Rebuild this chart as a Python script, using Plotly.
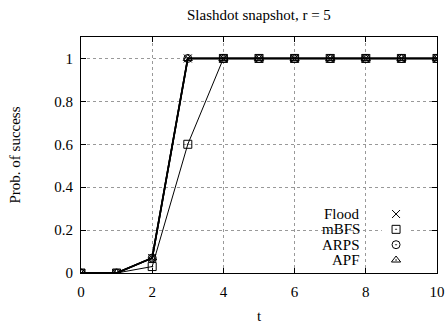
import plotly.graph_objects as go

t = [0, 1, 2, 3, 4, 5, 6, 7, 8, 9, 10]
flood = [0, 0, 0.07, 1, 1, 1, 1, 1, 1, 1, 1]
mbfs = [0, 0, 0.03, 0.6, 1, 1, 1, 1, 1, 1, 1]
arps = [0, 0, 0.07, 1, 1, 1, 1, 1, 1, 1, 1]
apf = [0, 0, 0.07, 1, 1, 1, 1, 1, 1, 1, 1]

names = ["Flood", "mBFS", "ARPS", "APF"]
series = [flood, mbfs, arps, apf]
symbols = ["x-thin-open", "square-open-dot", "circle-open-dot", "triangle-up-open-dot"]
widths = [1.8, 1.0, 1.6, 1.6]

FONT = "Liberation Serif"
FS = 15
fig = go.Figure()

for name, ys, sym, w in zip(names, series, symbols, widths):
    fig.add_trace(go.Scatter(
        x=t, y=ys, mode="lines+markers", name=name, showlegend=False,
        line=dict(color="black", width=w),
        marker=dict(symbol=sym, size=8, color="black",
                    line=dict(color="black", width=1)),
    ))

# key in the lower right: label text to the left of each symbol
key_y = [3, 2, 1, 0]
for name, sym, ky in zip(names, symbols, key_y):
    fig.add_trace(go.Scatter(
        x=[1], y=[ky], xaxis="x2", yaxis="y2", mode="markers",
        marker=dict(symbol=sym, size=8, color="black",
                    line=dict(color="black", width=1)),
        showlegend=False, hoverinfo="skip", cliponaxis=False,
    ))
    fig.add_annotation(
        x=0.789, xref="paper", xanchor="right",
        y=ky, yref="y2", yanchor="middle",
        text=name, showarrow=False,
        font=dict(family=FONT, size=FS, color="black"),
    )

axis_common = dict(
    showline=True, linecolor="black", linewidth=1, mirror="allticks",
    ticks="inside", ticklen=5, tickcolor="black",
    showgrid=True, gridcolor="#999999", griddash="dot", gridwidth=1,
    zeroline=False, automargin=False,
    tickfont=dict(family=FONT, size=FS, color="black"),
)

fig.update_layout(
    width=448, height=324, autosize=False,
    margin=dict(l=81, r=11, t=37, b=51, autoexpand=False),
    paper_bgcolor="white", plot_bgcolor="white",
    title=dict(text="Slashdot snapshot, r = 5", x=0.578, xanchor="center",
               y=0.953, yanchor="middle", automargin=False,
               font=dict(family=FONT, size=FS, color="black")),
    xaxis=dict(range=[0, 10], dtick=2, ticklabelstandoff=5,
               title=dict(text="t", font=dict(family=FONT, size=FS, color="black"),
                          standoff=12),
               **axis_common),
    yaxis=dict(range=[0, 1.1], tickvals=[0, 0.2, 0.4, 0.6, 0.8, 1],
               ticktext=["0", "0.2", "0.4", "0.6", "0.8", "1"],
               ticklabelstandoff=4,
               title=dict(text="Prob. of success",
                          font=dict(family=FONT, size=FS, color="black"),
                          standoff=30),
               **axis_common),
    xaxis2=dict(domain=[0.845, 0.925], range=[0, 2], visible=False,
                anchor="y2", fixedrange=True),
    yaxis2=dict(domain=[0.055, 0.25], range=[0, 3], visible=False,
                anchor="x2", fixedrange=True),
    font=dict(family=FONT, color="black"),
)

fig.write_html("out.html")
